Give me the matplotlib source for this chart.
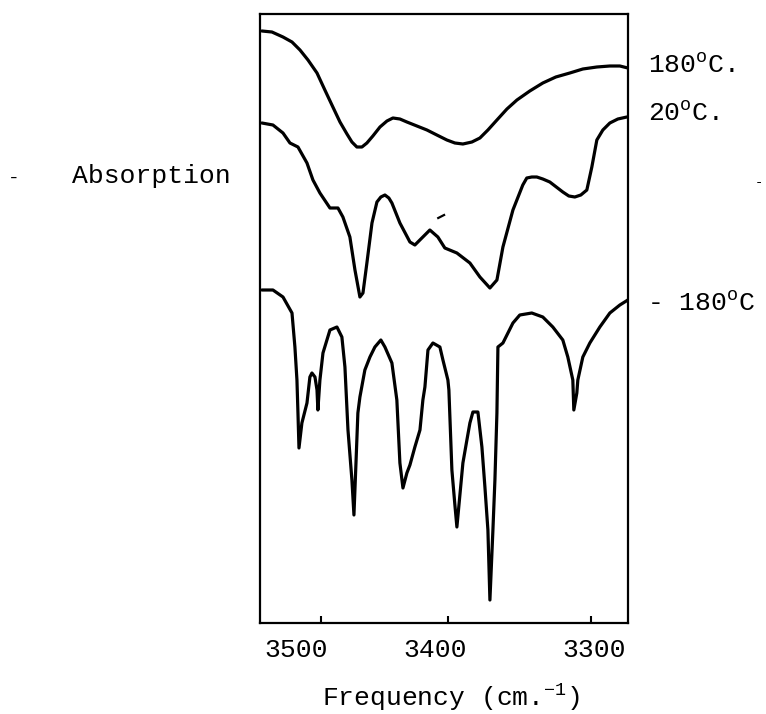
import numpy as np
import matplotlib
matplotlib.use("Agg")
import matplotlib.pyplot as plt
from matplotlib import transforms

plt.rcParams.update({
    "font.family": "Liberation Mono",
    "font.size": 19,
    "mathtext.fontset": "custom",
    "mathtext.rm": "Liberation Mono",
    "mathtext.it": "Liberation Mono",
    "mathtext.sf": "Liberation Mono",
})

W, H = 766, 714

# --- traces: frequency (cm-1) vs. trace height (arbitrary units) ---
hot_f = [3546.5, 3538.6, 3529.9, 3522.8, 3516.5, 3510.2, 3503.1, 3496.9, 3490.6, 3485.0,
         3479.5, 3475.6, 3471.7, 3467.7, 3463.8, 3459.1, 3453.5, 3448.0, 3443.3, 3437.8,
         3432.3, 3424.4, 3416.5, 3408.7, 3400.8, 3395.1, 3389.5, 3383.2, 3377.6, 3372.0,
         3365.7, 3358.7, 3351.7, 3342.7, 3333.6, 3324.5, 3314.7, 3305.6, 3295.8, 3286.7,
         3279.7, 3274.1]
hot_a = [592, 591, 586, 581, 573, 563, 550, 533, 516, 501,
         489, 481, 476, 476, 480, 487, 496, 502, 505, 504,
         501, 497, 493, 488, 483, 480, 479, 481, 485, 493,
         503, 514, 523, 532, 540, 546, 550, 554, 556, 557,
         557, 555]

room_f = [3546.5, 3537.8, 3529.9, 3524.4, 3518.1, 3511.0, 3506.3, 3500.8, 3492.9, 3486.6,
          3482.7, 3477.2, 3473.2, 3469.3, 3466.9, 3463.8, 3459.8, 3455.9, 3452.8, 3449.6,
          3446.5, 3444.1, 3437.8, 3429.9, 3426.0, 3420.5, 3414.2, 3407.9, 3402.4, 3393.7,
          3384.6, 3377.6, 3370.6, 3365.7, 3361.5, 3354.5, 3347.6, 3344.8, 3341.3, 3337.8,
          3333.6, 3328.7, 3319.6, 3315.4, 3311.2, 3307.0, 3302.8, 3299.3, 3295.8, 3291.6,
          3286.7, 3281.1, 3274.8]
room_a = [500, 498, 490, 480, 476, 460, 443, 430, 415, 415,
          406, 386, 353, 326, 330, 360, 400, 421, 426, 428,
          425, 420, 400, 381, 378, 385, 393, 386, 375, 370,
          360, 346, 335, 343, 376, 413, 438, 445, 446, 446,
          444, 441, 431, 427, 426, 428, 433, 456, 483, 493,
          500, 504, 506]

cold_f = [3546.5, 3537.8, 3529.9, 3522.8, 3520.5, 3518.9, 3518.1, 3517.3, 3515.0, 3511.0,
          3508.7, 3507.1, 3504.7, 3503.1, 3502.4, 3500.8, 3498.4, 3492.9, 3487.4, 3483.5,
          3481.1, 3478.7, 3475.6, 3474.0, 3472.4, 3470.9, 3469.3, 3465.4, 3461.4, 3457.5,
          3452.8, 3449.6, 3444.1, 3440.2, 3437.8, 3435.4, 3432.3, 3429.9, 3426.0, 3422.0,
          3419.7, 3418.1, 3415.7, 3411.8, 3406.3, 3403.9, 3400.0, 3399.3, 3397.2, 3395.1,
          3393.7, 3389.5, 3386.7, 3384.6, 3382.5, 3379.0, 3376.2, 3374.1, 3372.0, 3370.6,
          3368.5, 3367.1, 3365.7, 3365.0, 3361.5, 3354.5, 3349.7, 3341.3, 3333.6, 3326.6,
          3319.6, 3316.1, 3312.6, 3311.9, 3309.8, 3309.1, 3305.6, 3300.7, 3293.7, 3286.7,
          3279.7, 3274.1]
cold_a = [333, 333, 326, 310, 276, 243, 210, 175, 200, 220,
          246, 250, 246, 233, 213, 243, 270, 293, 296, 286,
          256, 193, 143, 108, 160, 210, 226, 253, 266, 276,
          283, 276, 260, 223, 160, 135, 150, 158, 176, 193,
          223, 236, 273, 280, 276, 263, 243, 233, 153, 118,
          96, 160, 183, 200, 211, 211, 176, 136, 93, 23,
          93, 143, 210, 276, 280, 300, 308, 310, 306, 296,
          283, 266, 243, 213, 230, 243, 266, 280, 296, 310,
          318, 323]

freq_ticks = [3500, 3400, 3300]
freq_labels = ["3500", "3400", "3300"]
trace_labels = ["180$^{\\rm o}$C.", "20$^{\\rm o}$C.", "- 180$^{\\rm o}$C"]


# chart paper scale changes between 3400 and 3300 cm-1 (increasing with frequency)
def fwd(f):
    f = np.asarray(f, float)
    return -np.where(f >= 3400, (3500 - f) * 1.27, 127 + (3400 - f) * 1.43)


def inv(q):
    p = -np.asarray(q, float)
    return np.where(p <= 127, 3500 - p / 1.27, 3400 - (p - 127) / 1.43)


def fx(px):
    return px / W


def fy(py):
    return 1 - py / H


fig = plt.figure(figsize=(W / 100, H / 100), dpi=100)
ax = fig.add_axes([fx(260), fy(623), fx(628) - fx(260), fy(14) - fy(623)])
ax.set_xscale("function", functions=(fwd, inv))

style = dict(color="black", lw=2.3, solid_joinstyle="round", solid_capstyle="round")
ax.plot(hot_f, hot_a, **style)
ax.plot(room_f, room_a, **style)
ax.plot(cold_f, cold_a, **style)
ax.plot([3407.6, 3403.0], [405, 408], color="black", lw=1.6)

ax.set_xlim(3548, 3274)
ax.set_ylim(0, 609)
ax.set_yticks([])
ax.set_xticks(freq_ticks)
ax.tick_params(axis="x", direction="in", length=5, width=1.5, labelbottom=False)
for s in ax.spines.values():
    s.set_linewidth(1.6)

# typed tick labels sit a little off their ticks
label_dx = [-25, -13, 3]
for f, lab, dx in zip(freq_ticks, freq_labels, label_dx):
    tr = transforms.offset_copy(ax.get_xaxis_transform(), fig=fig, x=dx, y=-34, units="dots")
    ax.text(f, 0, lab, transform=tr, ha="center", va="baseline")

fig.text(fx(451), fy(706), "Frequency (cm.$^{-1}$)", ha="center", va="baseline")
fig.text(fx(72), fy(183), "Absorption", ha="left", va="baseline")
fig.text(fx(8), fy(183), "-", ha="left", va="baseline", fontsize=14)
fig.text(fx(755), fy(186), "-", ha="left", va="baseline", fontsize=10)

fig.text(fx(648), fy(73), trace_labels[0], ha="left", va="baseline")
fig.text(fx(648), fy(121), trace_labels[1], ha="left", va="baseline")
fig.text(fx(647), fy(311), trace_labels[2], ha="left", va="baseline")

fig.savefig("out.png", dpi=100)
